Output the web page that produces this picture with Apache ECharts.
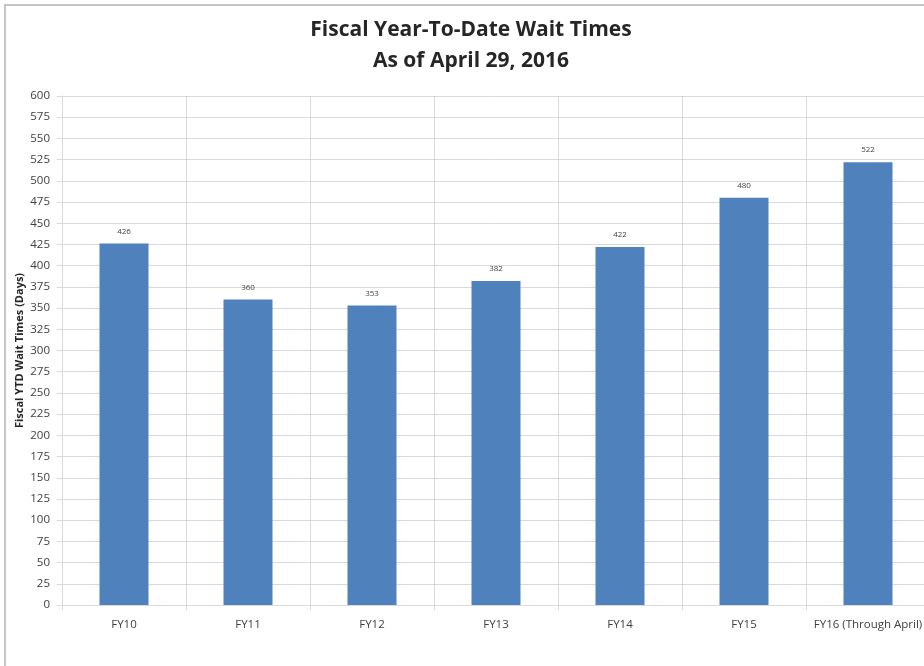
<!DOCTYPE html>
<html>
<head>
<meta charset="utf-8">
<script src="https://cdn.jsdelivr.net/npm/echarts@6/dist/echarts.min.js"></script>
<style>
html,body{margin:0;padding:0;background:#fff;}
#chart{width:924px;height:666px;}
</style>
</head>
<body>
<div id="chart"></div>
<script>
const titleLines = ["Fiscal Year-To-Date Wait Times", "As of April 29, 2016"];
const categories = ["FY10", "FY11", "FY12", "FY13", "FY14", "FY15", "FY16 (Through April)"];
const waitDays = [426, 360, 353, 382, 422, 480, 522];
const yAxisName = "Fiscal YTD Wait Times (Days)";
const yMin = 0, yMax = 600, yStep = 25;

const chart = echarts.init(document.getElementById('chart'), null, {renderer: 'canvas'});
chart.setOption({
  backgroundColor: '#ffffff',
  animation: false,
  title: {
    text: titleLines.join('\n'),
    left: 466,
    textAlign: 'center',
    top: 10,
    textStyle: {
      fontFamily: 'Open Sans',
      fontWeight: 'bold',
      fontSize: 21,
      lineHeight: 31,
      color: '#262626'
    }
  },
  graphic: [{
    type: 'rect',
    shape: {x: 5, y: 5, width: 1000, height: 800},
    style: {fill: 'none', stroke: '#c4c4c4', lineWidth: 2},
    silent: true,
    z: -1
  }],
  grid: {left: 62, top: 96, width: 868, height: 509, containLabel: false, outerBoundsMode: 'none'},
  xAxis: {
    type: 'category',
    data: categories,
    boundaryGap: true,
    axisLine: {show: true, lineStyle: {color: '#d9d9d9', width: 1}},
    axisTick: {show: true, length: 5, lineStyle: {color: '#d9d9d9'}},
    splitLine: {show: true, lineStyle: {color: '#d9d9d9', width: 1}},
    axisLabel: {
      interval: 0,
      margin: 14,
      fontFamily: 'Open Sans',
      fontSize: 11.5,
      color: '#404040'
    }
  },
  yAxis: {
    type: 'value',
    min: yMin,
    max: yMax,
    interval: yStep,
    name: yAxisName,
    nameLocation: 'middle',
    nameGap: 37,
    nameMoveOverlap: false,
    nameTextStyle: {
      fontFamily: 'Open Sans',
      fontWeight: 'bold',
      fontSize: 11,
      color: '#262626'
    },
    axisLine: {show: true, lineStyle: {color: '#d9d9d9'}},
    axisTick: {show: true, length: 5, lineStyle: {color: '#d9d9d9'}},
    splitLine: {show: true, lineStyle: {color: '#d9d9d9', width: 1}},
    axisLabel: {
      margin: 12,
      fontFamily: 'Open Sans',
      fontSize: 11.5,
      color: '#404040'
    }
  },
  series: [{
    type: 'bar',
    data: waitDays,
    barWidth: 49,
    itemStyle: {color: '#4f81bd'},
    label: {
      show: true,
      position: 'top',
      distance: 8,
      fontFamily: 'Open Sans',
      fontSize: 8,
      color: '#404040'
    }
  }]
});
</script>
</body>
</html>
